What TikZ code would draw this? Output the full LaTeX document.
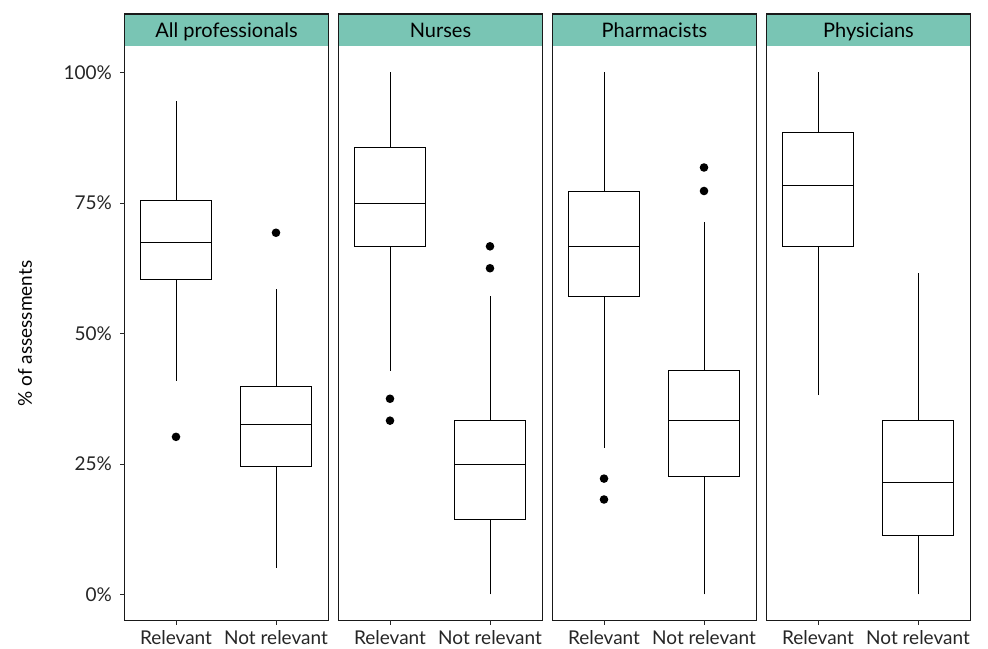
\documentclass[tikz,border=0pt]{standalone}
\usepackage{fontspec}
\setmainfont{Lato}
\definecolor{stripteal}{RGB}{121,197,180}
\tikzset{
	panelframe/.style={draw=black!90, line width=1.2pt},
	boxline/.style={draw=black, line width=0.9pt},
	outlier/.style={fill=black},
	axlab/.style={text=black!85, inner sep=0pt, font=\fontsize{19}{22}\selectfont},
	striplab/.style={text=black, inner sep=0pt, anchor=base, font=\fontsize{20}{23}\selectfont},
}
% box: x, low whisker, q1, median, q3, high whisker (in %)
\newcommand{\boxwhisk}[6]{%
	\draw[boxline] (#1,#2) -- (#1,#3);
	\draw[boxline] (#1,#5) -- (#1,#6);
	\draw[boxline] (#1-35.5,#3) rectangle (#1+35.5,#5);
	\draw[boxline] (#1-35.5,#4) -- (#1+35.5,#4);
}
\begin{document}
\begin{tikzpicture}[x=1pt, y=1pt]
	\useasboundingbox (0,0) rectangle (988,648);
	
	\foreach \px/\name/\ttl in {124.5/all/All professionals, 338.5/nur/Nurses, 552.5/pha/Pharmacists, 766.5/phy/Physicians} {
		\fill[stripteal] (\px,601.5) rectangle (\px+204,634);
		\node[striplab] (strip-\name) at (\px+102,610.5) {\ttl};
		\draw[panelframe] (\px,27.5) rectangle (\px+204,634);
		\draw[black!85, line width=0.9pt] (\px+51.5,27.5) -- (\px+51.5,23);
		\draw[black!85, line width=0.9pt] (\px+151.5,27.5) -- (\px+151.5,23);
		\node[axlab, anchor=base] (rel-\name) at (\px+51.5,4) {Relevant};
		\node[axlab, anchor=base] (notrel-\name) at (\px+151.5,4) {Not relevant};
	}
	
	\foreach \p in {0,25,50,75,100} {
		\draw[black!85, line width=0.9pt] (120,53.5+5.22*\p) -- (124.5,53.5+5.22*\p);
		\node[axlab, anchor=east] (ytick\p) at (112,53.5+5.22*\p) {\p\%};
	}
	\node[axlab, text=black, rotate=90] (ytitle) at (25,314.5) {\% of assessments};
	
	\begin{scope}[shift={(0pt,53.5pt)}, y=5.22pt]
		% All professionals
		\boxwhisk{176}{40.9}{60.4}{67.5}{75.5}{94.6}
		\boxwhisk{276}{5.1}{24.5}{32.5}{39.8}{58.6}
		\fill[outlier] (176,30.2) circle[radius=4.3pt];
		\fill[outlier] (276,69.3) circle[radius=4.3pt];
		% Nurses
		\boxwhisk{390}{42.9}{66.7}{75}{85.7}{100}
		\boxwhisk{490}{0}{14.3}{25}{33.3}{57.1}
		\fill[outlier] (390,37.5) circle[radius=4.3pt];
		\fill[outlier] (390,33.3) circle[radius=4.3pt];
		\fill[outlier] (490,66.7) circle[radius=4.3pt];
		\fill[outlier] (490,62.5) circle[radius=4.3pt];
		% Pharmacists
		\boxwhisk{604}{28.1}{57.1}{66.7}{77.3}{100}
		\boxwhisk{704}{0}{22.7}{33.3}{42.9}{71.4}
		\fill[outlier] (604,22.2) circle[radius=4.3pt];
		\fill[outlier] (604,18.2) circle[radius=4.3pt];
		\fill[outlier] (704,81.8) circle[radius=4.3pt];
		\fill[outlier] (704,77.3) circle[radius=4.3pt];
		% Physicians
		\boxwhisk{818}{38.2}{66.7}{78.3}{88.5}{100}
		\boxwhisk{918}{0}{11.4}{21.4}{33.3}{61.5}
	\end{scope}
\end{tikzpicture}
\end{document}
